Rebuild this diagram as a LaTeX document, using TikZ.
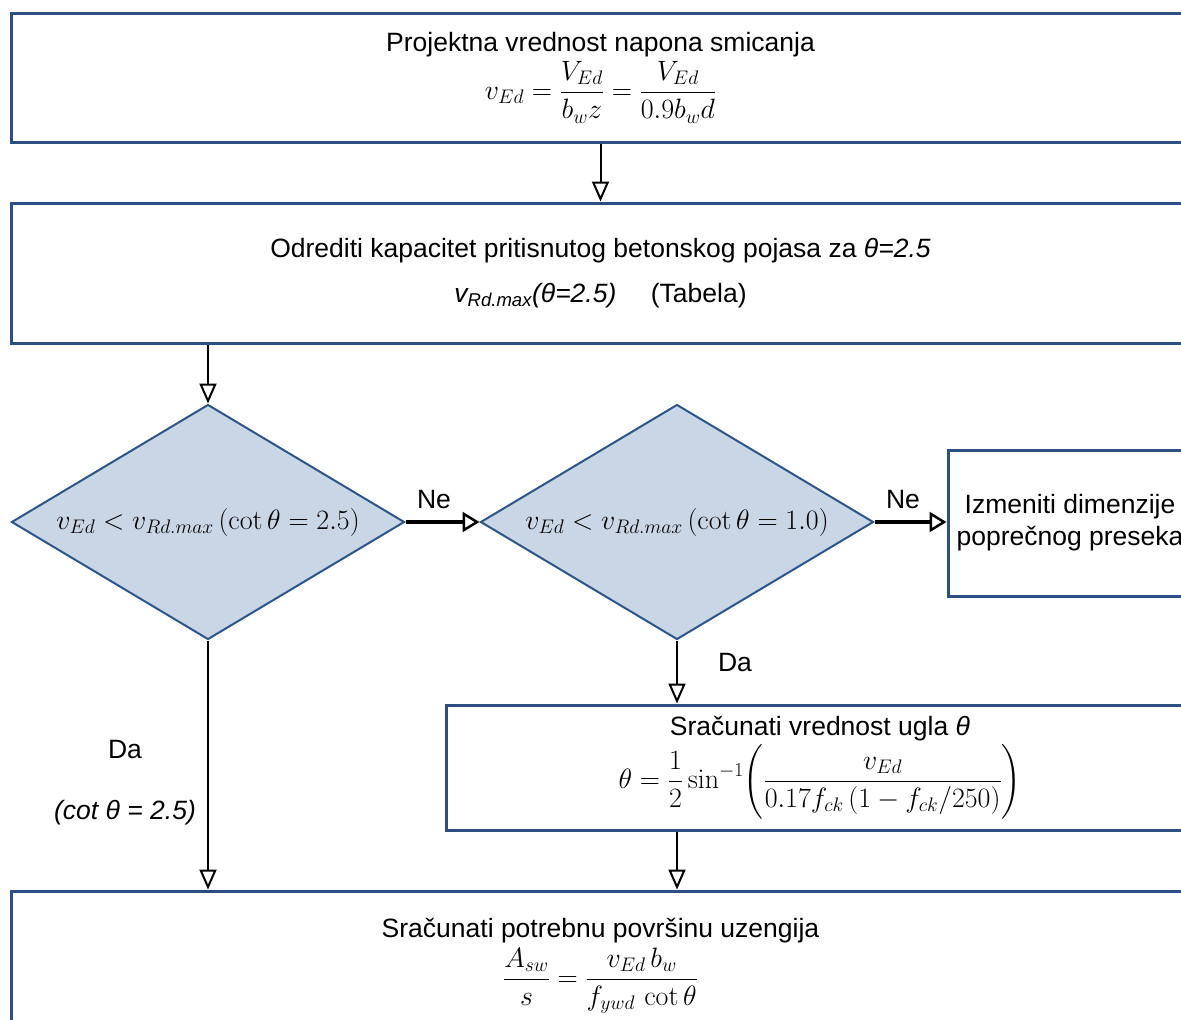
\RequirePackage{fix-cm}
\documentclass[tikz,border=0pt]{standalone}
\usepackage{amsmath}
\usepackage[no-math]{fontspec}
\setmainfont{Liberation Sans}
\usetikzlibrary{shapes.geometric,arrows.meta}
\definecolor{boxblue}{HTML}{2B4F80}
\definecolor{dfill}{HTML}{C9D6E6}
\definecolor{dborder}{HTML}{2D5588}
\newcommand{\mathsz}{\fontsize{28}{34}\selectfont}
\tikzset{
  procbox/.style={draw=boxblue, line width=3pt, fill=white, rectangle, inner sep=0pt, align=center, font=\fontsize{26.5}{32}\selectfont},
  decision/.style={draw=dborder, line width=2pt, fill=dfill, diamond, shape aspect=1.67, inner sep=0pt, font=\fontsize{26.5}{32}\selectfont},
  flow/.style={draw=black, line width=2pt, -{Triangle[open, length=20pt, width=17pt, line width=2pt]}},
  flowthick/.style={draw=black, line width=3.5pt, -{Triangle[open, length=17pt, width=20pt, line width=2.5pt]}},
  lbl/.style={font=\fontsize{26.5}{32}\selectfont, inner sep=0pt}
}
\begin{document}
\begin{tikzpicture}[x=1pt, y=-1pt]
\useasboundingbox (0,0) rectangle (1181,1020);
\clip (0,0) rectangle (1181,1020);
\node[procbox, minimum width=1179pt, minimum height=129pt] (b1) at (600.5,77.5)
  {Projektna vrednost napona smicanja\\[4pt]
   {\mathsz$\displaystyle v_{Ed} = \frac{V_{Ed}}{b_w z} = \frac{V_{Ed}}{0.9 b_w d}$}};
\node[procbox, minimum width=1179pt, minimum height=140pt] (b2) at (600.5,273)
  {Odrediti kapacitet pritisnutog betonskog pojasa za \textit{θ=2.5}\\[13pt]
   \textit{v\textsubscript{Rd.max}(θ=2.5)}\hspace{1.3em}(Tabela)};
\node[decision, minimum width=393pt, minimum height=235pt] (d1) at (208,522)
  {\mathsz$v_{Ed} < v_{Rd.max}\,(\cot\theta = 2.5)$};
\node[decision, minimum width=393pt, minimum height=235pt] (d2) at (677,522)
  {\mathsz$v_{Ed} < v_{Rd.max}\,(\cot\theta = 1.0)$};
\node[procbox, minimum width=244pt, minimum height=146pt] (b3) at (1070,523)
  {Izmeniti dimenzije\\poprečnog preseka};
\node[procbox, minimum width=748pt, minimum height=125pt] (b4) at (820,767.5)
  {Sračunati vrednost ugla \textit{θ}\\[2pt]
   {\mathsz$\displaystyle \theta = \frac{1}{2}\sin^{-1}\!\left(\frac{v_{Ed}}{0.17 f_{ck}\,(1 - f_{ck}/250)}\right)$}};
\node[procbox, minimum width=1179pt, minimum height=150pt] (b5) at (600.5,966)
  {Sračunati potrebnu površinu uzengija\\[4pt]
   {\mathsz$\displaystyle \frac{A_{sw}}{s} = \frac{v_{Ed}\, b_w}{f_{ywd}\,\cot\theta}$}};
\draw[flow] (b1.south) -- (b2.north);
\draw[flow] (b2.south -| d1.north) -- (d1.north);
\draw[flowthick] (d1.east) -- (d2.west);
\draw[flowthick] (d2.east) -- (d2.east -| b3.west);
\draw[flow] (d2.south) -- (d2.south |- b4.north);
\draw[flow] (b4.south -| d2.south) -- (b5.north -| d2.south);
\draw[flow] (d1.south) -- (d1.south |- b5.north);
\node[lbl] (ne1) at (434,500) {Ne};
\node[lbl] (ne2) at (903,500) {Ne};
\node[lbl] (da1) at (735,663) {Da};
\node[lbl] (da2) at (125,750) {Da};
\node[lbl] (cot) at (125,813) {\textit{(cot θ = 2.5)}};
\end{tikzpicture}
\end{document}
